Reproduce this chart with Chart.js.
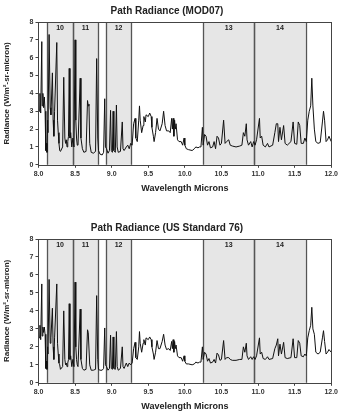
<!DOCTYPE html>
<html>
<head>
<meta charset="UTF-8" />
<title>Path Radiance</title>
<script src="https://cdn.jsdelivr.net/npm/chart.js"></script>
<style>
  body { margin: 0; background: #fff; }
  .box { position: absolute; left: 0; width: 340px; }
  #top { top: 0; height: 195px; }
  #bottom { top: 217px; height: 196px; }
</style>
</head>
<body>
<div class="box" id="top"><canvas id="chartTop"></canvas></div>
<div class="box" id="bottom"><canvas id="chartBottom"></canvas></div>
<script>
// wavelength (microns)
const wl = [
  8.0, 8.01, 8.02, 8.03, 8.045, 8.05, 8.06, 8.07, 8.08, 8.09,
  8.10, 8.11, 8.115, 8.125, 8.13, 8.145, 8.16, 8.17, 8.19, 8.2,
  8.21, 8.22, 8.25, 8.26, 8.27, 8.28, 8.29, 8.30, 8.33, 8.345,
  8.36, 8.37, 8.38, 8.39, 8.40, 8.41, 8.42, 8.43, 8.44, 8.455,
  8.47, 8.485, 8.5, 8.51, 8.52, 8.53, 8.54, 8.57, 8.58, 8.6,
  8.62, 8.65, 8.67, 8.68, 8.69, 8.70, 8.72, 8.75, 8.78, 8.795,
  8.81, 8.82, 8.84, 8.87, 8.89, 8.905, 8.915, 8.93, 8.95, 8.97,
  8.985, 8.995, 9.01, 9.02, 9.03, 9.05, 9.065, 9.075, 9.09, 9.12,
  9.145, 9.155, 9.17, 9.2, 9.22, 9.24, 9.26, 9.28, 9.3, 9.32,
  9.33, 9.35, 9.37, 9.38, 9.39, 9.41, 9.43, 9.44, 9.46, 9.47,
  9.5, 9.52, 9.54, 9.55, 9.57, 9.58, 9.6, 9.62, 9.64, 9.66,
  9.69, 9.71, 9.73, 9.75, 9.78, 9.8, 9.82, 9.83, 9.84, 9.85,
  9.86, 9.87, 9.88, 9.9, 9.92, 9.95, 9.97, 9.99, 10.0, 10.02,
  10.05, 10.1, 10.13, 10.15, 10.18, 10.2, 10.22, 10.24, 10.25, 10.27,
  10.29, 10.31, 10.33, 10.35, 10.38, 10.4, 10.42, 10.44, 10.46, 10.48,
  10.5, 10.53, 10.55, 10.57, 10.6, 10.62, 10.65, 10.7, 10.75, 10.78,
  10.8, 10.82, 10.84, 10.85, 10.87, 10.9, 10.92, 10.94, 10.96, 10.98,
  11.02, 11.03, 11.05, 11.07, 11.1, 11.13, 11.15, 11.2, 11.23, 11.25,
  11.27, 11.28, 11.3, 11.32, 11.35, 11.37, 11.4, 11.45, 11.48, 11.5,
  11.53, 11.55, 11.57, 11.59, 11.62, 11.64, 11.66, 11.68, 11.7, 11.72,
  11.735, 11.75, 11.77, 11.79, 11.82, 11.85, 11.88, 11.895, 11.91, 11.93,
  11.95, 11.97, 12.0
];

// path radiance, MOD07 profile
const mod07 = [
  3.8, 3.0, 4.0, 2.9, 6.9, 3.3, 4.0, 3.2, 3.8, 3.0,
  0.8, 1.2, 0.7, 2.5, 1.8, 7.3, 3.2, 2.8, 5.15, 2.5,
  1.6, 3.0, 6.85, 2.5, 1.8, 1.2, 0.8, 0.75, 1.0, 4.9,
  1.5, 1.2, 1.4, 1.0, 1.3, 1.6, 5.4, 1.5, 1.8, 1.0,
  1.5, 1.0, 7.0, 2.5, 1.5, 1.1, 1.1, 4.85, 1.5, 0.9,
  0.7, 0.75, 3.6, 3.3, 3.4, 1.2, 0.7, 0.65, 0.75, 5.95,
  1.5, 0.8, 0.6, 0.55, 0.7, 3.7, 1.0, 0.9, 0.65, 0.8,
  3.05, 0.8, 0.7, 3.0, 0.8, 0.7, 3.35, 1.0, 0.7, 0.75,
  2.4, 0.9, 0.8, 1.0, 1.1, 0.9, 1.2, 1.1, 2.3, 2.6,
  1.5, 1.3, 2.5, 3.3, 2.5, 1.8, 2.2, 2.7, 2.4, 2.8,
  2.7, 2.9, 2.7, 2.1, 1.6, 1.3, 1.8, 2.6, 2.0, 1.9,
  2.3, 3.0, 2.2, 1.9, 1.9, 1.8, 2.6, 2.0, 2.6, 1.6,
  2.5, 2.0, 2.3, 1.4, 1.3, 1.3, 1.1, 1.5, 1.1, 0.9,
  0.85, 0.8, 0.9, 1.0, 0.95, 1.0, 1.0, 2.1, 1.1, 1.7,
  1.6, 1.1, 1.3, 0.95, 1.0, 1.3, 0.9, 1.6, 1.5, 1.1,
  1.2, 2.5, 1.2, 1.3, 1.4, 1.1, 1.05, 1.0, 1.05, 1.1,
  1.8, 1.6, 2.3, 1.4, 1.1, 1.3, 1.0, 1.3, 1.1, 1.4,
  2.6, 1.5, 1.6, 1.1, 1.0, 1.2, 1.0, 1.1, 1.8, 2.3,
  2.3, 1.3, 2.1, 1.4, 2.2, 1.2, 1.1, 1.3, 2.4, 1.2,
  1.15, 2.4, 2.2, 1.2, 1.2, 1.5, 1.3, 2.5, 3.0, 3.3,
  4.85, 3.3, 2.0, 1.3, 1.2, 1.25, 2.4, 3.0, 2.5, 1.3,
  1.4, 1.6, 1.3
];

// path radiance, US Standard 76 profile
const us76 = [
  3.0, 2.5, 3.2, 2.4, 5.5, 2.6, 3.1, 2.8, 3.1, 2.7,
  0.8, 1.2, 0.75, 2.0, 1.6, 5.75, 2.2, 2.5, 4.15, 2.0,
  1.3, 2.5, 5.5, 2.2, 1.6, 1.1, 1.0, 0.75, 0.9, 4.0,
  1.3, 1.0, 1.1, 0.9, 1.1, 1.3, 4.4, 1.3, 1.5, 0.9,
  1.3, 0.9, 5.6, 2.0, 1.3, 1.0, 0.9, 4.1, 1.3, 0.8,
  0.7, 0.75, 2.95, 2.8, 2.8, 1.0, 0.7, 0.7, 0.75, 4.85,
  1.3, 0.75, 0.7, 0.7, 0.8, 3.05, 1.0, 0.9, 0.7, 0.8,
  2.65, 0.8, 0.75, 2.55, 0.8, 0.75, 2.85, 0.9, 0.7, 0.8,
  2.0, 0.9, 0.8, 1.1, 0.9, 1.1, 1.0, 1.1, 1.9, 2.25,
  1.4, 1.3, 2.0, 2.85, 2.2, 1.7, 2.2, 2.4, 2.1, 2.5,
  2.4, 2.55, 2.4, 2.0, 1.6, 1.3, 1.7, 2.35, 1.9, 1.9,
  2.3, 2.7, 2.1, 1.85, 1.9, 1.8, 2.3, 1.9, 2.4, 1.7,
  2.3, 1.9, 2.1, 1.5, 1.4, 1.4, 1.2, 1.5, 1.2, 1.05,
  1.05, 1.0, 1.05, 1.15, 1.1, 1.15, 1.15, 2.0, 1.3, 1.7,
  1.6, 1.2, 1.35, 1.1, 1.15, 1.3, 1.1, 1.65, 1.55, 1.25,
  1.3, 2.35, 1.3, 1.4, 1.4, 1.3, 1.25, 1.25, 1.3, 1.3,
  2.0, 1.7, 2.2, 1.5, 1.3, 1.45, 1.3, 1.45, 1.3, 1.5,
  2.5, 1.6, 1.7, 1.35, 1.3, 1.45, 1.3, 1.35, 1.9, 2.1,
  2.45, 1.5, 2.15, 1.6, 2.25, 1.4, 1.35, 1.4, 2.45, 1.4,
  1.4, 2.35, 2.2, 1.5, 1.45, 1.6, 1.5, 2.5, 2.9, 3.2,
  4.2, 3.0, 2.7, 1.7, 1.6, 1.7, 2.5, 2.9, 2.3, 1.6,
  1.7, 1.85, 1.7
];

// MODIS band windows
const bandStart  = [8.12, 8.47, 8.92, 10.25, 10.95];
const bandEnd    = [8.47, 8.815, 9.27, 10.95, 11.65];
const bandLabels = ['10', '11', '12', '13', '14'];

const FONT = "'Liberation Sans', Arial, sans-serif";

const bandsPlugin = {
  id: 'bands',
  beforeDatasetsDraw(chart) {
    const { ctx, chartArea: a, scales: { x } } = chart;
    ctx.save();
    ctx.fillStyle = '#e6e6e6';
    bandStart.forEach((s, i) => {
      const x0 = x.getPixelForValue(s), x1 = x.getPixelForValue(bandEnd[i]);
      ctx.fillRect(x0, a.top, x1 - x0, a.bottom - a.top);
    });
    ctx.strokeStyle = '#555';
    ctx.lineWidth = 1.3;
    bandStart.forEach((s, i) => {
      [s, bandEnd[i]].forEach(v => {
        const px = Math.round(x.getPixelForValue(v)) + 0.5;
        ctx.beginPath(); ctx.moveTo(px, a.top); ctx.lineTo(px, a.bottom); ctx.stroke();
      });
    });
    ctx.fillStyle = '#222';
    ctx.font = 'bold 7px ' + FONT;
    ctx.textAlign = 'center';
    ctx.textBaseline = 'top';
    bandStart.forEach((s, i) => {
      const cx = (x.getPixelForValue(s) + x.getPixelForValue(bandEnd[i])) / 2;
      ctx.fillText(bandLabels[i], cx, a.top + 3);
    });
    ctx.restore();
  },
  afterDraw(chart) {
    const { ctx, chartArea: a } = chart;
    ctx.save();
    ctx.strokeStyle = '#444';
    ctx.lineWidth = 1;
    ctx.strokeRect(Math.round(a.left) + 0.5, Math.round(a.top) + 0.5,
                   Math.round(a.right - a.left), Math.round(a.bottom - a.top));
    ctx.restore();
  }
};

function makeChart(id, title, values) {
  return new Chart(document.getElementById(id), {
    type: 'line',
    data: {
      datasets: [{
        data: wl.map((w, i) => ({ x: w, y: values[i] })),
        borderColor: '#111',
        borderWidth: 1,
        pointRadius: 0,
        tension: 0,
        fill: false
      }]
    },
    options: {
      responsive: true,
      maintainAspectRatio: false,
      animation: false,
      layout: { padding: { left: 2, right: 8, top: 0, bottom: 1 } },
      plugins: {
        legend: { display: false },
        tooltip: { enabled: false },
        title: {
          display: true, text: title, color: '#222',
          font: { family: FONT, size: 10, weight: 'bold' },
          padding: { top: 5, bottom: 5 }
        }
      },
      scales: {
        x: {
          type: 'linear', min: 8, max: 12,
          grid: { display: true, drawOnChartArea: false, drawTicks: true, tickLength: 3, color: '#444' },
          border: { display: false },
          ticks: {
            stepSize: 0.5, color: '#333', padding: 2, maxRotation: 0,
            font: { family: FONT, size: 7, weight: 'bold' },
            callback: v => v.toFixed(1)
          },
          title: {
            display: true, text: 'Wavelength Microns', color: '#222',
            font: { family: FONT, size: 9, weight: 'bold' }, padding: { top: 3, bottom: 0 }
          }
        },
        y: {
          min: 0, max: 8,
          grid: { display: true, drawOnChartArea: false, drawTicks: true, tickLength: 3, color: '#444' },
          border: { display: false },
          ticks: {
            stepSize: 1, color: '#333', padding: 2,
            font: { family: FONT, size: 7, weight: 'bold' }
          },
          title: {
            display: true, text: 'Radiance (W/m²-sr-micron)', color: '#222',
            font: { family: FONT, size: 8, weight: 'bold' }, padding: { top: 0, bottom: 16 }
          }
        }
      }
    },
    plugins: [bandsPlugin]
  });
}

makeChart('chartTop', 'Path Radiance (MOD07)', mod07);
makeChart('chartBottom', 'Path Radiance (US Standard 76)', us76);
</script>
</body>
</html>
